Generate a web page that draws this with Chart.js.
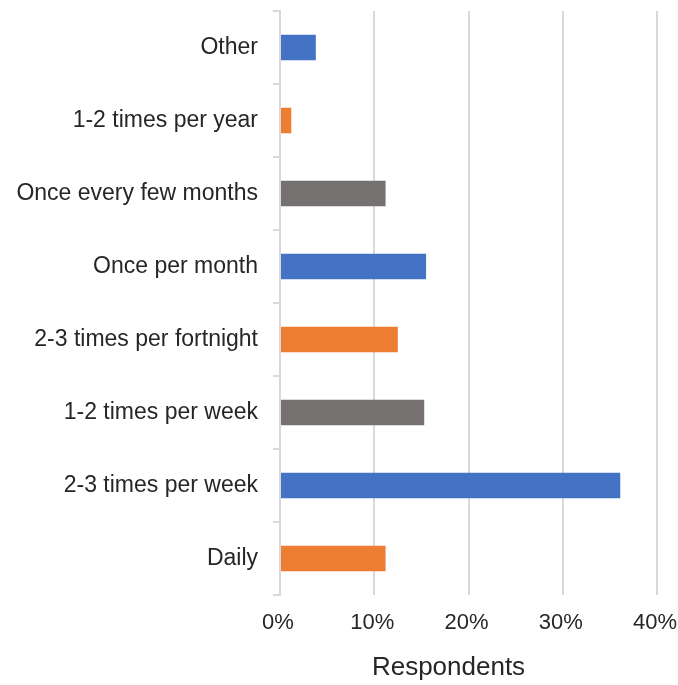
<!DOCTYPE html>
<html>
<head>
<meta charset="utf-8">
<script src="https://cdn.jsdelivr.net/npm/chart.js@4"></script>
<style>
  html, body { margin: 0; padding: 0; background: #ffffff; }
  #wrap { width: 678px; height: 685px; }
</style>
</head>
<body>
<div id="wrap"><canvas id="chart" width="678" height="685"></canvas></div>
<script>
// Frequency categories, top to bottom
const categories = [
  "Other",
  "1-2 times per year",
  "Once every few months",
  "Once per month",
  "2-3 times per fortnight",
  "1-2 times per week",
  "2-3 times per week",
  "Daily"
];
// Share of respondents (%)
const respondents = [3.8, 1.2, 11.2, 15.5, 12.5, 15.3, 36.1, 11.2];
const xTicks = [0, 10, 20, 30, 40];
const xAxisTitle = "Respondents";

const BLUE = "#4472C4", ORANGE = "#ED7D31", GREY = "#767171";
const barColors = [BLUE, ORANGE, GREY, BLUE, ORANGE, GREY, BLUE, ORANGE];
const FONT = "Liberation Sans, Arial, sans-serif";
const TEXT = "#262626";

// Axis title drawn under the tick labels, a little left of the plot centre
const axisTitlePlugin = {
  id: "axisTitle",
  afterDraw(chart) {
    const { ctx, chartArea } = chart;
    ctx.save();
    ctx.font = "26px " + FONT;
    ctx.fillStyle = TEXT;
    ctx.textAlign = "center";
    ctx.textBaseline = "middle";
    ctx.fillText(xAxisTitle, (chartArea.left + chartArea.right) / 2 - 20, 668);
    ctx.restore();
  }
};

new Chart(document.getElementById("chart"), {
  type: "bar",
  data: {
    labels: categories,
    datasets: [{
      data: respondents,
      backgroundColor: barColors,
      borderWidth: 0,
      barPercentage: 0.35,
      categoryPercentage: 1.0
    }]
  },
  plugins: [axisTitlePlugin],
  options: {
    indexAxis: "y",
    responsive: false,
    animation: false,
    layout: { padding: { top: 11, right: 21, bottom: 0, left: 0 } },
    plugins: { legend: { display: false }, tooltip: { enabled: false } },
    scales: {
      x: {
        min: 0,
        max: 40,
        afterBuildTicks: (axis) => { axis.ticks = xTicks.map(v => ({ value: v })); },
        afterFit: (axis) => {
          axis.height = 90;
          axis.paddingLeft = 0;
          axis.paddingRight = 0;
        },
        ticks: {
          callback: (v) => v + "%",
          color: TEXT,
          font: { family: FONT, size: 22 },
          padding: 15,
          labelOffset: -2
        },
        grid: { color: "#d9d9d9", lineWidth: 2, drawTicks: false },
        border: { display: false }
      },
      y: {
        afterFit: (axis) => {
          axis.width = 280;
          axis.paddingTop = 0;
          axis.paddingBottom = 0;
        },
        grid: {
          offset: true,
          drawOnChartArea: false,
          color: "#d9d9d9",
          lineWidth: 2,
          tickLength: 7
        },
        border: { color: "#d9d9d9", width: 2 },
        ticks: {
          color: TEXT,
          font: { family: FONT, size: 23 },
          padding: 15
        }
      }
    }
  }
});
</script>
</body>
</html>
